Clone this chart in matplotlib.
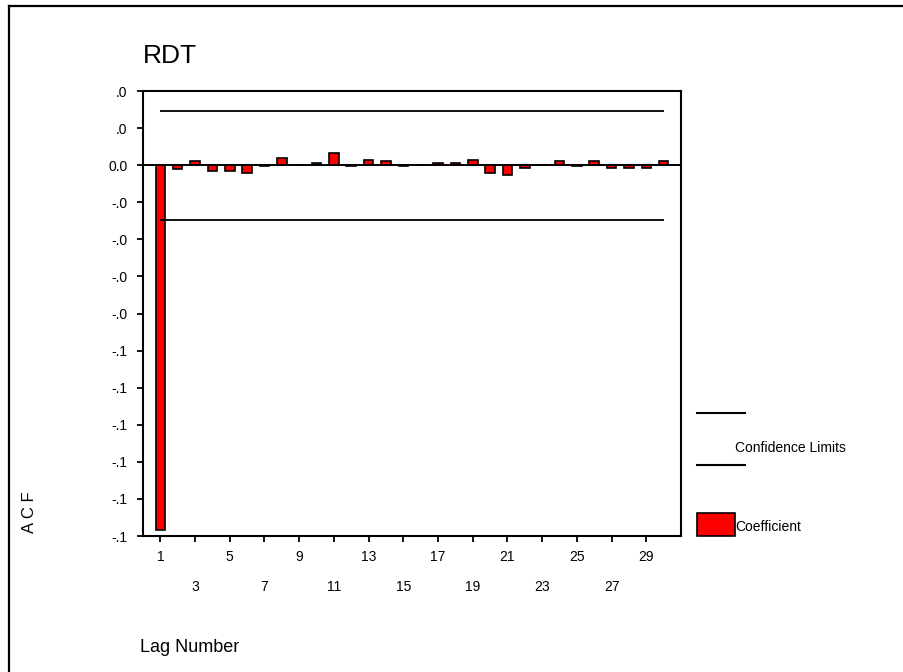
import matplotlib
matplotlib.use("Agg")
import matplotlib.pyplot as plt
from matplotlib.lines import Line2D
from matplotlib.patches import Rectangle
import numpy as np

plt.rcParams['font.family'] = ['Liberation Sans', 'DejaVu Sans']

# ACF coefficients, lags 1..30
lags = np.arange(1, 31)
acf = [-0.0983, -0.0011, 0.0011, -0.0016, -0.0016, -0.0021, -0.0001, 0.0020,
       0.0001, 0.0006, 0.0033, -0.0001, 0.0014, 0.0011, -0.0001, 0.0001,
       0.0006, 0.0006, 0.0014, -0.0021, -0.0026, -0.0007, 0.0001, 0.0011,
       -0.0001, 0.0011, -0.0007, -0.0007, -0.0007, 0.0011]
conf_limit = 0.0147

y_ticks = [0.02, 0.01, 0.0, -0.01, -0.02, -0.03, -0.04, -0.05, -0.06,
           -0.07, -0.08, -0.09, -0.10]
y_labels = [".0", ".0", "0.0", "-.0", "-.0", "-.0", "-.0", "-.1", "-.1",
            "-.1", "-.1", "-.1", "-.1"]
x_ticks = list(range(1, 31, 2))
x_labels = [str(v) for v in x_ticks]

W, H = 904, 672
fig = plt.figure(figsize=(W / 100, H / 100), dpi=100)
ax = fig.add_axes([143 / W, 1 - 536 / H, (681 - 143) / W, (536 - 91) / H])

ax.bar(lags, acf, width=0.55, color='#ff0000', edgecolor='black',
       linewidth=1.2, zorder=3)
ax.axhline(0, color='black', linewidth=1.4, zorder=4)
# confidence limits drawn over the bars, as in the original
ax.hlines([conf_limit, -conf_limit], lags.min(), lags.max(), color='black',
          linewidth=1.3, zorder=5)

ax.set_xlim(0, 31)
ax.set_ylim(y_ticks[-1], y_ticks[0])
ax.set_yticks(y_ticks)
ax.set_yticklabels(y_labels, fontsize=10)
ax.set_xticks(x_ticks)
ax.set_xticklabels(x_labels, fontsize=10)
ax.tick_params(axis='both', direction='out', length=4, width=1.3,
               color='black')
ax.tick_params(axis='y', pad=7)
for i, t in enumerate(ax.xaxis.get_major_ticks()):
    t.set_pad(6 if i % 2 == 0 else 28)
for s in ax.spines.values():
    s.set_linewidth(1.5)
    s.set_color('black')

ax.set_title("RDT", loc='left', fontsize=19, pad=20)

fig.text(140 / W, 1 - 648 / H, "Lag Number", fontsize=13, ha='left',
         va='center')
fig.text(30 / W, 1 - 512 / H, "A C F", fontsize=12, rotation=90,
         ha='center', va='center')

# legend on the right
for yy in (412.7, 465):
    fig.add_artist(Line2D([697 / W, 745 / W], [1 - yy / H, 1 - yy / H],
                          color='black', linewidth=1.5))
fig.text(735 / W, 1 - 448 / H, "Confidence Limits", fontsize=10,
         ha='left', va='center')
fig.add_artist(Rectangle((697 / W, 1 - 536 / H), 38 / W, 23 / H,
                         facecolor='#ff0000', edgecolor='black',
                         linewidth=1.2, transform=fig.transFigure))
fig.text(735 / W, 1 - 527 / H, "Coefficient", fontsize=10, ha='left',
         va='center')

# outer frame (top and left only)
fig.add_artist(Line2D([9 / W, 9 / W], [0, 1 - 5.5 / H], color='black',
                      linewidth=1.6))
fig.add_artist(Line2D([9 / W, 1], [1 - 5.5 / H, 1 - 5.5 / H], color='black',
                      linewidth=1.6))

fig.savefig("out.png", dpi=100)
